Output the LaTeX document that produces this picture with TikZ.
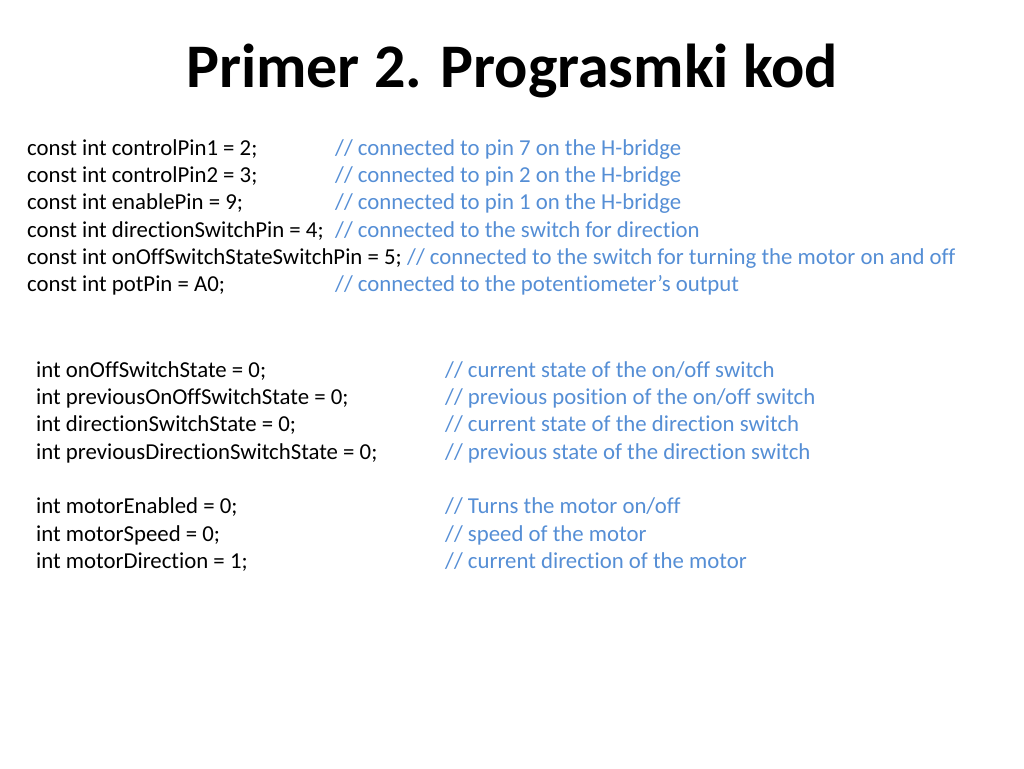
\documentclass[tikz,border=0pt]{standalone}
\usepackage{fontspec}
\setmainfont[Ligatures=NoCommon]{Carlito}
\definecolor{cmt}{RGB}{85,142,213}
\begin{document}
\begin{tikzpicture}[x=1pt,y=-1pt,
  code/.style={anchor=base west,inner sep=0pt,font=\fontsize{22.8}{26}\selectfont},
  cmtxt/.style={code,text=cmt}]
\useasboundingbox (0,0) rectangle (1024,768);
\node[anchor=base,inner sep=0pt,font=\fontsize{62}{68}\selectfont\bfseries] (title) at (512,87) {Primer 2. Prograsmki kod};
\node[code] (a1) at (27,155) {const int controlPin1 = 2;};
\node[code] (a2) at (27,182) {const int controlPin2 = 3;};
\node[code] (a3) at (27,209) {const int enablePin = 9;};
\node[code] (a4) at (27,237) {const int directionSwitchPin = 4;};
\node[code] (a5) at (27,264) {const int onOffSwitchStateSwitchPin = 5;};
\node[code] (a6) at (27,291) {const int potPin = A0;};
\node[cmtxt] (c1) at (335,155) {// connected to pin 7 on the H-bridge};
\node[cmtxt] (c2) at (335,182) {// connected to pin 2 on the H-bridge};
\node[cmtxt] (c3) at (335,209) {// connected to pin 1 on the H-bridge};
\node[cmtxt] (c4) at (335,237) {// connected to the switch for direction};
\node[cmtxt] (c5) at (407,264) {// connected to the switch for turning the motor on and off};
\node[cmtxt] (c6) at (335,291) {// connected to the potentiometer\symbol{39}s output};
\node[code] (b1) at (36,377) {int onOffSwitchState = 0;};
\node[code] (b2) at (36,404) {int previousOnOffSwitchState = 0;};
\node[code] (b3) at (36,431) {int directionSwitchState = 0;};
\node[code] (b4) at (36,459) {int previousDirectionSwitchState = 0;};
\node[code] (b5) at (36,513) {int motorEnabled = 0;};
\node[code] (b6) at (36,541) {int motorSpeed = 0;};
\node[code] (b7) at (36,568) {int motorDirection = 1;};
\node[cmtxt] (d1) at (445,377) {// current state of the on/off switch};
\node[cmtxt] (d2) at (445,404) {// previous position of the on/off switch};
\node[cmtxt] (d3) at (445,431) {// current state of the direction switch};
\node[cmtxt] (d4) at (445,459) {// previous state of the direction switch};
\node[cmtxt] (d5) at (445,513) {// Turns the motor on/off};
\node[cmtxt] (d6) at (445,541) {// speed of the motor};
\node[cmtxt] (d7) at (445,568) {// current direction of the motor};
\end{tikzpicture}
\end{document}
